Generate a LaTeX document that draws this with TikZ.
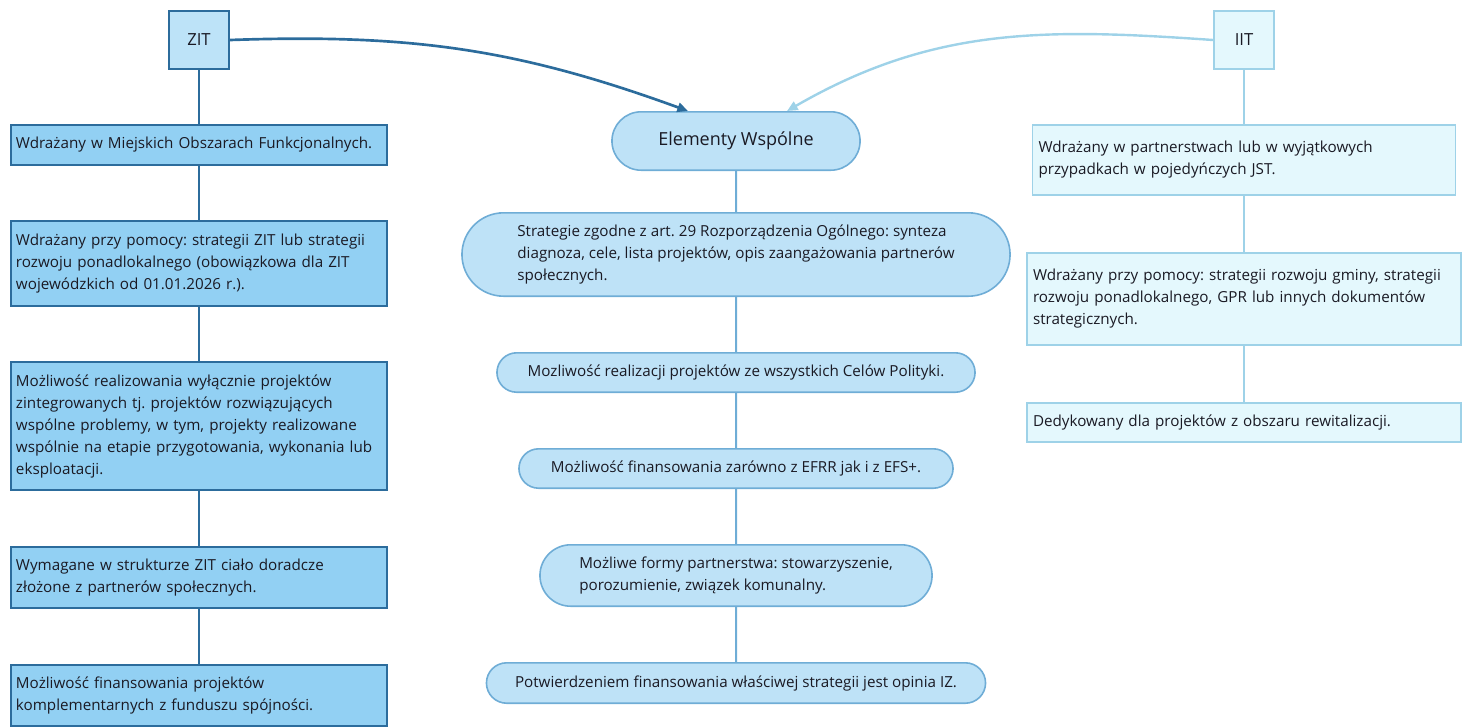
\documentclass[tikz,border=0pt]{standalone}
\usepackage{fontspec}
\setmainfont{Open Sans}
\usepackage{tikz}
\usetikzlibrary{shapes.misc, arrows.meta, positioning}
\definecolor{zitline}{HTML}{2C6C9C}
\definecolor{zitfill}{HTML}{92D0F3}
\definecolor{zithead}{HTML}{BDE3F8}
\definecolor{wspline}{HTML}{6FADD6}
\definecolor{wspfill}{HTML}{BEE2F7}
\definecolor{iitline}{HTML}{9ED2E8}
\definecolor{iitfill}{HTML}{E4F8FD}
\definecolor{txt}{HTML}{1A1A24}
\newcommand{\boxfont}{\fontsize{11.4}{16.5}\selectfont}
\tikzset{
    zit_head/.style={rectangle, draw=zitline, fill=zithead, line width=1.2pt, minimum width=45.3pt, minimum height=43.8pt, font=\fontsize{12.5}{14}\selectfont, text=txt},
    iit_head/.style={rectangle, draw=iitline, fill=iitfill, line width=1.2pt, minimum width=45.3pt, minimum height=43.8pt, font=\fontsize{12.5}{14}\selectfont, text=txt},
    zit_block/.style={rectangle, draw=zitline, fill=zitfill, line width=1.2pt, align=left, text width=274.5pt, inner xsep=3.75pt, inner ysep=0pt, font=\boxfont, text=txt},
    iit_block/.style={rectangle, draw=iitline, fill=iitfill, line width=1.2pt, align=left, text width=316.5pt, inner xsep=4.5pt, inner ysep=0pt, font=\boxfont, text=txt},
    common_block/.style={rounded rectangle, draw=wspline, fill=wspfill, line width=1.2pt, align=left, inner ysep=0pt, font=\boxfont, text=txt},
    link_zit/.style={draw=zitline, line width=1.5pt},
    link_common/.style={draw=wspline, line width=1.5pt},
    link_iit/.style={draw=iitline, line width=1.5pt},
    arrow_zit/.style={draw=zitline, line width=2pt, -{Triangle[length=8pt, width=7pt]}},
    arrow_iit/.style={draw=iitline, line width=1.8pt, -{Triangle[length=8pt, width=7pt]}}
}
\begin{document}
\frenchspacing
\begin{tikzpicture}[x=0.75pt, y=0.75pt, node distance=41.25pt]
    \useasboundingbox (0,0) rectangle (1462,-726);
    \clip (0,0) rectangle (1462,-726);
    % ZIT
    \node (zit) [zit_head] at (199,-40) {ZIT};
    \node (zit_area) [zit_block, minimum height=30.3pt, below=40.5pt of zit] {Wdrażany w Miejskich Obszarach Funkcjonalnych.};
    \node (zit_strategy) [zit_block, minimum height=64.05pt, below=40.5pt of zit_area] {Wdrażany przy pomocy: strategii ZIT lub strategii\\ rozwoju ponadlokalnego (obowiązkowa dla ZIT\\ wojewódzkich od 01.01.2026 r.).};
    \node (zit_projects) [zit_block, minimum height=96.3pt, below=40.5pt of zit_strategy] {Możliwość realizowania wyłącznie projektów\\ zintegrowanych tj. projektów rozwiązujących\\ wspólne problemy, w tym, projekty realizowane\\ wspólnie na etapie przygotowania, wykonania lub\\ eksploatacji.};
    \node (zit_body) [zit_block, minimum height=46.05pt, below=41.25pt of zit_projects] {Wymagane w strukturze ZIT ciało doradcze\\ złożone z partnerów społecznych.};
    \node (zit_funds) [zit_block, minimum height=46.05pt, below=41.25pt of zit_body] {Możliwość finansowania projektów\\ komplementarnych z funduszu spójności.};
    % Elementy Wspolne
    \node (common) [common_block, minimum width=192.75pt, minimum height=43.8pt, font=\fontsize{13.5}{15}\selectfont] at (736,-141) {Elementy Wspólne};
    \node (common_strategy) [common_block, minimum width=417.75pt, minimum height=62.55pt, below=30.75pt of common] {Strategie zgodne z art. 29 Rozporządzenia Ogólnego: synteza\\ diagnoza, cele, lista projektów, opis zaangażowania partnerów\\ społecznych.};
    \node (common_goals) [common_block, minimum width=365.25pt, minimum height=29.55pt, below=of common_strategy] {Mozliwość realizacji projektów ze wszystkich Celów Polityki.};
    \node (common_funds) [common_block, minimum width=332.25pt, minimum height=29.55pt, below=of common_goals] {Możliwość finansowania zarówno z EFRR jak i z EFS+.};
    \node (common_forms) [common_block, minimum width=300.75pt, minimum height=46.05pt, below=of common_funds] {Możliwe formy partnerstwa: stowarzyszenie,\\ porozumienie, związek komunalny.};
    \node (common_opinion) [common_block, minimum width=381pt, minimum height=30.3pt, below=of common_forms] {Potwierdzeniem finansowania właściwej strategii jest opinia IZ.};
    % IIT
    \node (iit) [iit_head] at (1244,-40) {IIT};
    \node (iit_partner) [iit_block, text width=308.25pt, minimum height=52.8pt, below=40.5pt of iit] {Wdrażany w partnerstwach lub w wyjątkowych\\ przypadkach w pojedyńczych JST.};
    \node (iit_strategy) [iit_block, minimum height=69.3pt, below=42pt of iit_partner] {Wdrażany przy pomocy: strategii rozwoju gminy, strategii\\ rozwoju ponadlokalnego, GPR lub innych dokumentów\\ strategicznych.};
    \node (iit_revital) [iit_block, minimum height=29.55pt, below=42pt of iit_strategy] {Dedykowany dla projektów z obszaru rewitalizacji.};
    % Lines
    \draw [link_zit] (zit) -- (zit_area);
    \draw [link_zit] (zit_area) -- (zit_strategy);
    \draw [link_zit] (zit_strategy) -- (zit_projects);
    \draw [link_zit] (zit_projects) -- (zit_body);
    \draw [link_zit] (zit_body) -- (zit_funds);
    \draw [link_common] (common) -- (common_strategy);
    \draw [link_common] (common_strategy) -- (common_goals);
    \draw [link_common] (common_goals) -- (common_funds);
    \draw [link_common] (common_funds) -- (common_forms);
    \draw [link_common] (common_forms) -- (common_opinion);
    \draw [link_iit] (iit) -- (iit_partner);
    \draw [link_iit] (iit_partner) -- (iit_strategy);
    \draw [link_iit] (iit_strategy) -- (iit_revital);
    % Arrows
    \draw [arrow_zit] (zit.east) to[out=2, in=160] ([xshift=-36pt]common.north);
    \draw [arrow_iit] (iit.west) to[out=176, in=30] ([xshift=38.25pt]common.north);
\end{tikzpicture}
\end{document}
